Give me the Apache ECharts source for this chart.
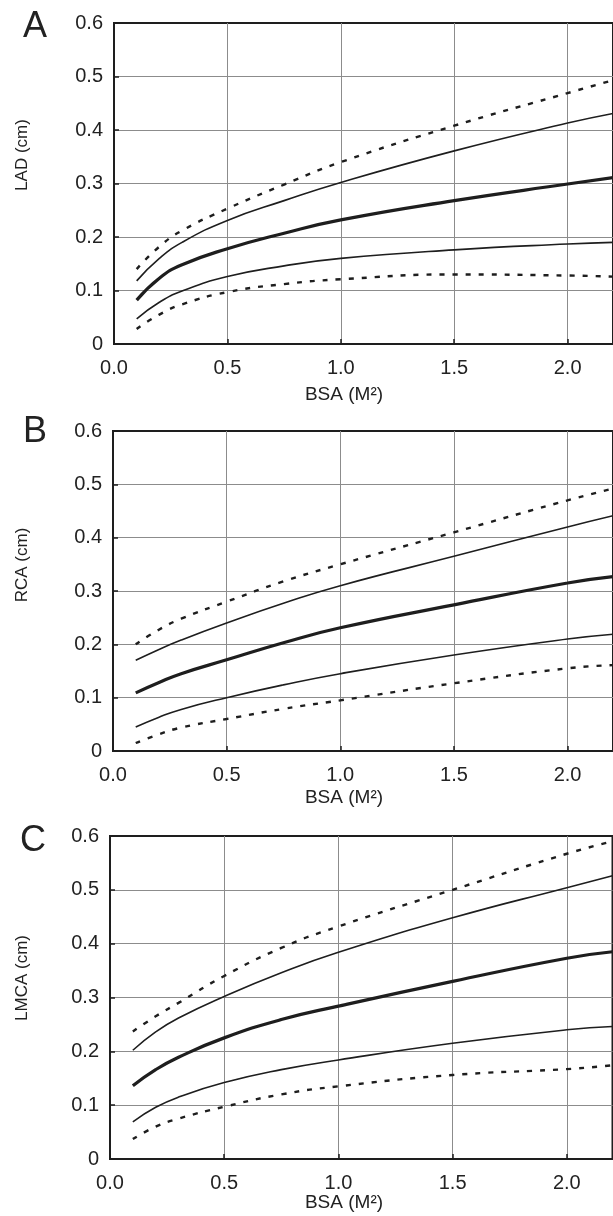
<!DOCTYPE html>
<html>
<head>
<meta charset="utf-8">
<script src="https://cdn.jsdelivr.net/npm/echarts@6/dist/echarts.min.js"></script>
<style>html,body{margin:0;padding:0;background:#fff}#c{width:613px;height:1216px}</style>
</head>
<body>
<div id="c"></div>
<script>
// BSA sample points (M²)
const bsa = [0.1, 0.2, 0.3, 0.5, 0.75, 1.0, 1.5, 2.0, 2.2];
const xTicks = ['0.0', '0.5', '1.0', '1.5', '2.0'];
const yTicks = ['0', '0.1', '0.2', '0.3', '0.4', '0.5', '0.6'];
const panels = ['A', 'B', 'C'];
const yNames = ['LAD (cm)', 'RCA (cm)', 'LMCA (cm)'];
const xName = 'BSA (M²)';

// Panel A – LAD
const ladMean   = [0.082, 0.123, 0.148, 0.178, 0.207, 0.232, 0.268, 0.299, 0.311];
const ladUp2    = [0.118, 0.160, 0.190, 0.231, 0.268, 0.302, 0.361, 0.413, 0.431];
const ladUp3    = [0.140, 0.182, 0.212, 0.253, 0.298, 0.340, 0.408, 0.469, 0.493];
const ladLo2    = [0.047, 0.078, 0.099, 0.126, 0.146, 0.160, 0.176, 0.187, 0.190];
const ladLo3    = [0.028, 0.055, 0.074, 0.097, 0.112, 0.121, 0.130, 0.128, 0.126];
// Panel B – RCA
const rcaMean   = [0.109, 0.128, 0.145, 0.171, 0.203, 0.231, 0.274, 0.315, 0.327];
const rcaUp2    = [0.170, 0.190, 0.208, 0.240, 0.277, 0.310, 0.365, 0.420, 0.441];
const rcaUp3    = [0.200, 0.227, 0.248, 0.280, 0.318, 0.350, 0.410, 0.470, 0.492];
const rcaLo2    = [0.045, 0.063, 0.078, 0.100, 0.124, 0.145, 0.180, 0.210, 0.219];
const rcaLo3    = [0.015, 0.031, 0.044, 0.060, 0.079, 0.095, 0.127, 0.155, 0.161];
// Panel C – LMCA
const lmcaMean  = [0.136, 0.166, 0.189, 0.225, 0.259, 0.284, 0.330, 0.373, 0.385];
const lmcaUp2   = [0.202, 0.236, 0.262, 0.302, 0.346, 0.384, 0.448, 0.504, 0.526];
const lmcaUp3   = [0.237, 0.265, 0.290, 0.340, 0.392, 0.432, 0.500, 0.567, 0.590];
const lmcaLo2   = [0.069, 0.096, 0.115, 0.142, 0.166, 0.184, 0.215, 0.240, 0.246];
const lmcaLo3   = [0.037, 0.060, 0.075, 0.097, 0.120, 0.135, 0.156, 0.167, 0.174];

const sets = [
  [ladMean, ladUp2, ladUp3, ladLo2, ladLo3],
  [rcaMean, rcaUp2, rcaUp3, rcaLo2, rcaLo3],
  [lmcaMean, lmcaUp2, lmcaUp3, lmcaLo2, lmcaLo3]
];

const grids = [
  {left: 114, top: 23, width: 501.6, height: 321},
  {left: 113, top: 431, width: 501.6, height: 320},
  {left: 110, top: 836, width: 502.5, height: 323}
];
const FONT = '"Liberation Sans", Arial, sans-serif';
const ink = '#1e1e1e';

const option = {
  backgroundColor: '#fff',
  animation: false,
  grid: grids.map(g => Object.assign({show: true, borderColor: ink, borderWidth: 2, backgroundColor: 'transparent'}, g)),
  xAxis: grids.map((g, i) => ({
    type: 'value', gridIndex: i, min: 0, max: 2.2, interval: 0.5,
    axisLine: {show: true, lineStyle: {color: ink, width: 2}},
    axisTick: {show: true, inside: true, length: 5, lineStyle: {color: ink, width: 1.5}},
    axisLabel: {
      color: '#222', fontSize: 20, fontFamily: FONT, margin: 14, showMaxLabel: false,
      formatter: v => { const k = Math.round(v / 0.5); return Math.abs(v - k * 0.5) < 1e-6 ? xTicks[k] : ''; }
    },
    splitLine: {show: true, showMinLine: false, showMaxLine: false, lineStyle: {color: '#8c8c8c', width: 1}}
  })),
  yAxis: grids.map((g, i) => ({
    type: 'value', gridIndex: i, min: 0, max: 0.6, interval: 0.1,
    axisLine: {show: true, lineStyle: {color: ink, width: 2}},
    axisTick: {show: true, inside: true, length: 5, lineStyle: {color: ink, width: 1.5}},
    axisLabel: {
      color: '#222', fontSize: 20, fontFamily: FONT, margin: 11,
      formatter: v => yTicks[Math.round(v * 10)]
    },
    splitLine: {show: true, showMinLine: false, showMaxLine: false, lineStyle: {color: '#8c8c8c', width: 1}}
  })),
  series: [],
  graphic: []
};

const styles = [
  {width: 3.2, type: 'solid'},
  {width: 1.6, type: 'solid'},
  {width: 2.4, type: [5, 8]},
  {width: 1.6, type: 'solid'},
  {width: 2.4, type: [5, 8]}
];

sets.forEach((s, i) => {
  s.forEach((vals, j) => {
    option.series.push({
      type: 'line', xAxisIndex: i, yAxisIndex: i, smooth: 0.5, symbol: 'none', clip: true,
      lineStyle: Object.assign({color: ink, cap: 'butt'}, styles[j]),
      data: bsa.map((x, k) => [x, vals[k]])
    });
  });
});

// panel letters, axis titles
const letterPos = [[23, 13], [23, 418], [20, 827]];
const yNamePos = [[22, 155], [22, 565], [22, 978]];
const xNamePos = [[344, 395], [344, 798], [344, 1203]];
panels.forEach((p, i) => {
  option.graphic.push({type: 'text', left: letterPos[i][0], top: letterPos[i][1] - 4,
    style: {text: p, font: '36px ' + FONT, fill: '#222'}});
  option.graphic.push({type: 'text', x: yNamePos[i][0], y: yNamePos[i][1], rotation: Math.PI / 2,
    style: {text: yNames[i], font: '17px ' + FONT, fill: '#222', align: 'center', verticalAlign: 'middle'}});
  option.graphic.push({type: 'text', x: xNamePos[i][0], y: xNamePos[i][1],
    style: {text: xName, font: '19px ' + FONT, fill: '#222', align: 'center', verticalAlign: 'middle'}});
});

const chart = echarts.init(document.getElementById('c'), null, {renderer: 'canvas'});
chart.setOption(option);
</script>
</body>
</html>
